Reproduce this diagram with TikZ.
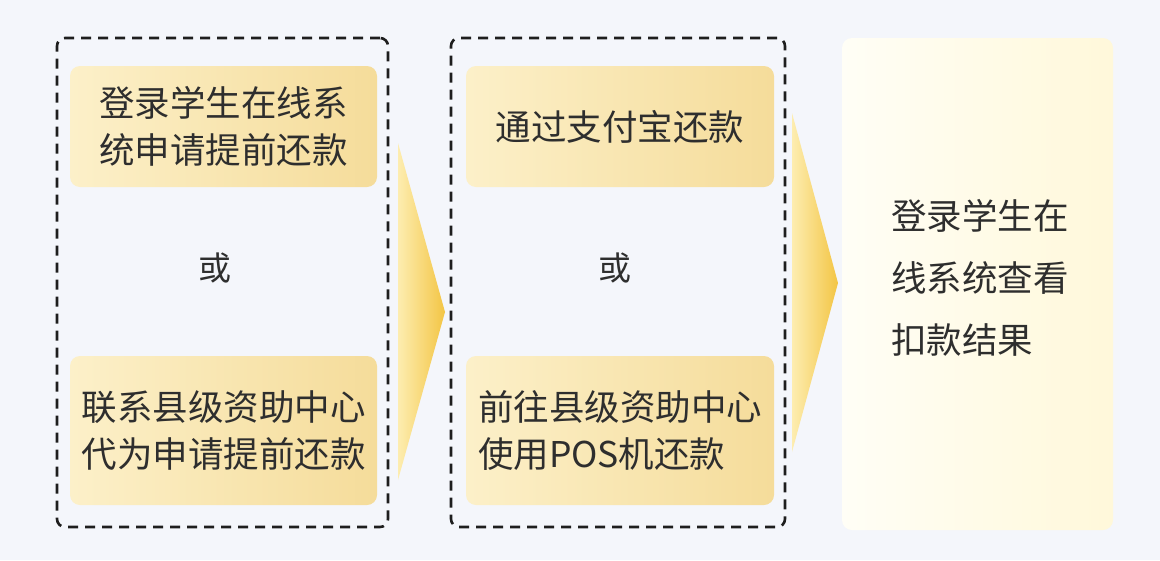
\documentclass[tikz,border=0pt]{standalone}
\usepackage{fontspec}
\setmainfont{Noto Sans CJK SC}
\definecolor{bg}{HTML}{F4F6FB}
\definecolor{boxL}{HTML}{FCF0C9}
\definecolor{boxR}{HTML}{F5DC9A}
\definecolor{arrL}{HTML}{FDEDB0}
\definecolor{arrR}{HTML}{F3C544}
\definecolor{finL}{HTML}{FFFEF6}
\definecolor{finR}{HTML}{FFF8DA}
\definecolor{txt}{HTML}{2E2E2E}
\definecolor{dash}{HTML}{1E1E1E}
\tikzset{
  optbox/.style={rounded corners=10pt, left color=boxL, right color=boxR, draw=none,
    inner sep=0pt, text=txt, align=left, font=\fontsize{35.5}{47}\selectfont},
  grpbox/.style={draw=dash, line width=2.6pt, dash pattern=on 10pt off 7pt,
    rounded corners=8pt, inner sep=0pt},
  ortext/.style={text=txt, font=\fontsize{33}{40}\selectfont, inner sep=0pt},
  arrowshape/.style={left color=arrL, right color=arrR, draw=none}
}
\begin{document}
\begin{tikzpicture}[x=1pt,y=-1pt]
\fill[bg] (0,0) rectangle (1160,560);
\useasboundingbox (0,0) rectangle (1160,560);

% group 1
\node[grpbox, minimum width=331pt, minimum height=489pt] (g1) at (222.5,282.5) {};
\node[optbox, minimum width=307pt, minimum height=121pt] (a1) at (223.5,126.5) {登录学生在线系\\统申请提前还款};
\node[ortext] (or1) at (215,268) {或};
\node[optbox, minimum width=307pt, minimum height=149pt] (b1) at (223.5,430.5) {联系县级资助中心\\代为申请提前还款};

% group 2
\node[grpbox, minimum width=334pt, minimum height=489pt] (g2) at (618,282.5) {};
\node[optbox, minimum width=308pt, minimum height=121pt] (a2) at (620,126.5) {通过支付宝还款};
\node[ortext] (or2) at (615,268) {或};
\node[optbox, minimum width=308pt, minimum height=149pt] (b2) at (620,430.5) {前往县级资助中心\\使用POS机还款};

% final
\node[rounded corners=10pt, left color=finL, right color=finR, draw=none,
  minimum width=271pt, minimum height=492pt, inner sep=0pt] (f) at (977.5,284) {};
\node[text=txt, align=left, inner sep=0pt, font=\fontsize{35.5}{62}\selectfont] (ft) at (980,278) {登录学生在\\线系统查看\\扣款结果};

% arrows
\shade[arrowshape] (398,143) -- (445,312) -- (398,480) -- cycle;
\shade[arrowshape] (792,113) -- (838,283) -- (792,452) -- cycle;
\end{tikzpicture}
\end{document}
